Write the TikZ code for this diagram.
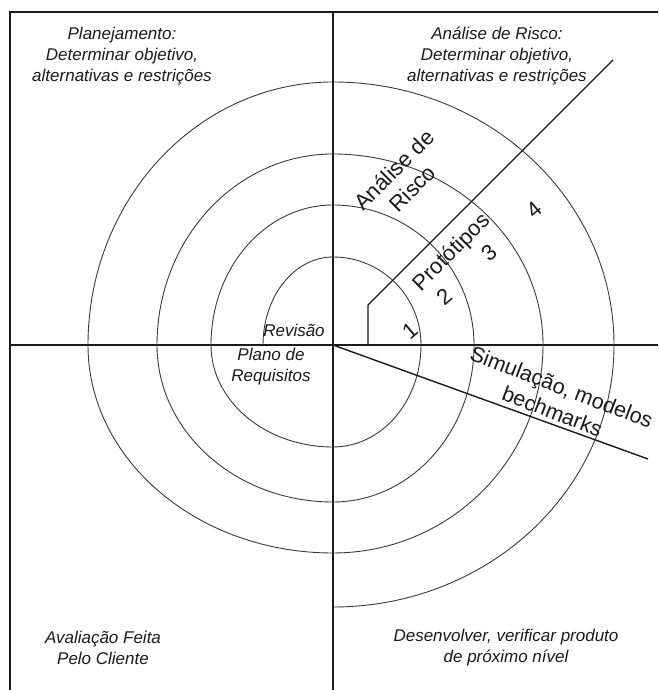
\documentclass[tikz,border=0pt]{standalone}
\usepackage{fontspec}
\setmainfont{Liberation Sans}
\usetikzlibrary{positioning}
\definecolor{spInk}{HTML}{1A1A1A}
\definecolor{spArc}{HTML}{3A3A3A}
\tikzset{
  spaxis/.style={draw=spInk, line width=1.4pt},
  sparc/.style={draw=spArc, line width=0.9pt},
  splabel/.style={text=spInk, font=\fontsize{17}{21}\selectfont\itshape,
                  align=center, inner sep=0pt},
}
\begin{document}
\begin{tikzpicture}[x=1pt, y=1pt,
  bigtxt/.style={text=spInk, font=\fontsize{22}{26}\selectfont, align=center, inner sep=0pt}]
  \clip (0,0) rectangle (658,690);
  \coordinate (c) at (333,345);
  % moldura e eixos
  \draw[spaxis] (10,-5) -- (10,678) -- (670,678);
  \draw[spaxis] (10,345) -- (670,345);
  \draw[spaxis] (333,678) -- (333,-5);
  % espiral
  \draw[sparc] (263,345)
    arc[start angle=180, end angle=90, x radius=70, y radius=88]
    arc[start angle=90, end angle=0, x radius=88, y radius=88]
    arc[start angle=0, end angle=-90, x radius=88, y radius=102]
    arc[start angle=-90, end angle=-180, x radius=122, y radius=102]
    arc[start angle=180, end angle=90, x radius=122, y radius=140]
    arc[start angle=90, end angle=0, x radius=141, y radius=140]
    arc[start angle=0, end angle=-90, x radius=141, y radius=157]
    arc[start angle=-90, end angle=-180, x radius=176, y radius=157]
    arc[start angle=180, end angle=90, x radius=176, y radius=191]
    arc[start angle=90, end angle=0, x radius=210, y radius=191]
    arc[start angle=0, end angle=-90, x radius=210, y radius=208]
    arc[start angle=-90, end angle=-180, x radius=245, y radius=208]
    arc[start angle=180, end angle=90, x radius=245, y radius=263]
    arc[start angle=90, end angle=0, x radius=281, y radius=263]
    arc[start angle=0, end angle=-90, x radius=281, y radius=262];
  % linhas radiais
  \coordinate (p0) at (368,345);
  \coordinate (p1) at (368,385);
  \coordinate (p2) at (613,630);
  \coordinate (s1) at (648,231);
  \draw[spaxis] (p0) -- (p1) -- (p2);
  \draw[spaxis] (c) -- (s1);
  % quadrantes
  \node[splabel] (plan) at (122,634) {Planejamento:\\Determinar objetivo,\\alternativas e restrições};
  \node[splabel] (risco) at (497,634) {Análise de Risco:\\Determinar objetivo,\\alternativas e restrições};
  \node[splabel] (aval) at (103,42) {Avaliação Feita\\Pelo Cliente};
  \node[splabel] (desenv) at (506,42) {Desenvolver, verificar produto\\de próximo nível};
  % centro
  \node[splabel, anchor=base] (revisao) at (294,353) {Revisão};
  \node[splabel] (plano) at (271,323) {Plano de\\Requisitos};
  % rotulos inclinados
  \node[bigtxt, rotate=45] (analise) at (403,511) {Análise de\\Risco};
  \node[bigtxt, rotate=45] (prot) at (452,437) {Protótipos};
  \node[bigtxt, rotate=-21, font=\fontsize{21.5}{26}\selectfont] (simul) at (557,291) {Simulação, modelos\\bechmarks};
  \node[bigtxt, rotate=40] (n1) at (410,359) {1};
  \node[bigtxt, rotate=40] (n2) at (444,393) {2};
  \node[bigtxt, rotate=40] (n3) at (489,437) {3};
  \node[bigtxt, rotate=40] (n4) at (534,480) {4};
\end{tikzpicture}
\end{document}
